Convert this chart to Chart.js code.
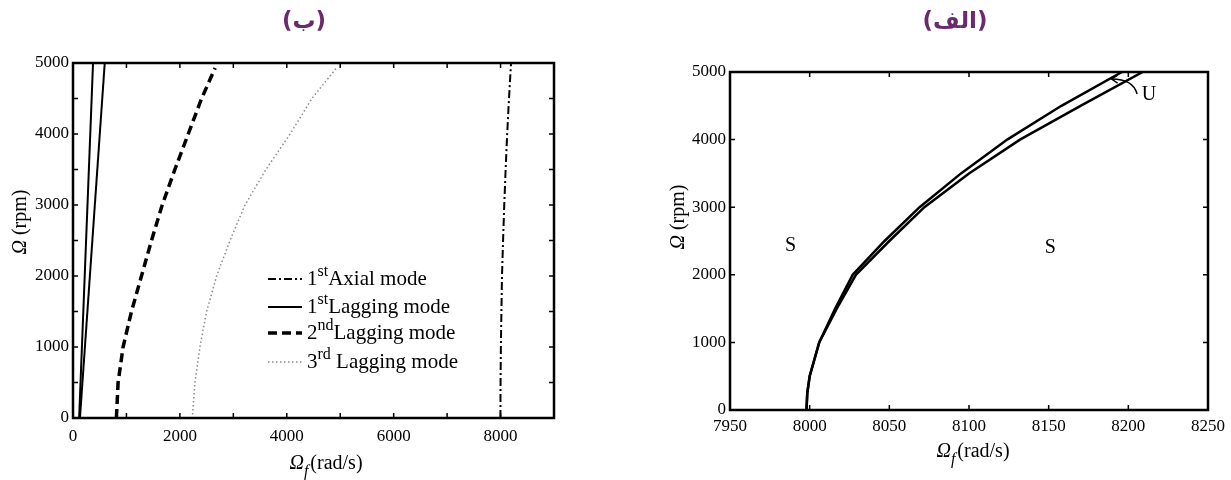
<!DOCTYPE html>
<html>
<head>
<meta charset="utf-8">
<script src="https://cdn.jsdelivr.net/npm/chart.js@4.4.0/dist/chart.umd.min.js"></script>
<style>
  html, body { margin: 0; padding: 0; background: #fff; }
  #wrap { position: relative; width: 1231px; height: 480px; }
  .panel { position: absolute; top: 0; height: 480px; }
</style>
</head>
<body>
<div id="wrap">
  <div class="panel" style="left:0;width:615px"><canvas id="chartB"></canvas></div>
  <div class="panel" style="left:615px;width:616px"><canvas id="chartA"></canvas></div>
</div>
<script>
// ---------------- DATA ----------------
// spin speed Omega (rpm)
const rpmSteps = [0, 250, 500, 1000, 1500, 2000, 2500, 3000, 3500, 4000, 4500, 5000];
// stability boundary curves (rad/s), panel (الف); first one is also the 1st axial mode in (ب)
const boundUpperX = [7998, 7998.5, 8000, 8006, 8016, 8027, 8047, 8069, 8095, 8124, 8158, 8196];
const boundLowerX = [7998, 7998.5, 8000, 8006, 8017, 8029, 8050, 8072, 8100, 8132, 8170, 8209];

// 1st lagging mode: two nearly straight lines
const lag1Rpm = [0, 5000];
const lag1aX = [115, 375];
const lag1bX = [130, 594];

// 2nd lagging mode
const lag2Rpm = [0, 500, 1000, 1500, 2000, 2500, 3000, 3500, 4000, 4500, 4930];
const lag2X = [812, 844, 937, 1094, 1281, 1469, 1669, 1906, 2156, 2406, 2660];

// 3rd lagging mode
const lag3Rpm = [50, 500, 1000, 1500, 2000, 2500, 3000, 3500, 4000, 4500, 4940];
const lag3X = [2237, 2281, 2375, 2500, 2687, 2937, 3219, 3610, 4062, 4470, 4940];

// legend text (number, superscript, rest)
const legendNums = ["1", "1", "2", "3"];
const legendSups = ["st", "st", "nd", "rd"];
const legendTexts = ["Axial mode", "Lagging mode", "Lagging mode", " Lagging mode"];

// region labels in panel (الف)
const regionLabels = ["S", "S", "U"];
const regionX = [7988, 8151, 8213];
const regionY = [2430, 2400, 4660];

const SERIF = '"Liberation Serif", "Times New Roman", serif';
const TITLE_COLOR = "#6b2a6e";

function pts(xs, ys) {
  return xs.map((x, i) => ({ x: x, y: ys[i] }));
}

// ---------------- HELPERS ----------------
function drawOmegaLabel(ctx, cx, baseY, withF, rest) {
  ctx.save();
  ctx.fillStyle = "#000";
  ctx.textBaseline = "alphabetic";
  ctx.textAlign = "left";
  const omFont = "italic 20px " + SERIF;
  const fFont = "italic 16px " + SERIF;
  const restFont = "20px " + SERIF;
  ctx.font = omFont; const wOm = ctx.measureText("Ω").width;
  ctx.font = fFont; const wF = withF ? ctx.measureText("f").width + 2 : 0;
  ctx.font = restFont; const wR = ctx.measureText(rest).width;
  let x = cx - (wOm + wF + wR) / 2;
  ctx.font = omFont; ctx.fillText("Ω", x, baseY); x += wOm;
  if (withF) { ctx.font = fFont; ctx.fillText("f", x, baseY + 7); x += wF; }
  ctx.font = restFont; ctx.fillText(rest, x, baseY);
  ctx.restore();
}

function drawYLabel(ctx, cx, cy) {
  ctx.save();
  ctx.translate(cx, cy);
  ctx.rotate(-Math.PI / 2);
  drawOmegaLabel(ctx, 0, 7, false, " (rpm)");
  ctx.restore();
}

function drawTitle(ctx, x, y, text) {
  ctx.save();
  ctx.font = 'bold 23px "DejaVu Sans", sans-serif';
  ctx.fillStyle = TITLE_COLOR;
  ctx.textAlign = "center";
  ctx.textBaseline = "middle";
  ctx.fillText(text, x, y);
  ctx.restore();
}

// inward ticks on all four sides + box
const framePlugin = {
  id: "frame",
  afterDatasetsDraw(chart) {
    const ctx = chart.ctx, a = chart.chartArea;
    const xs = chart.scales.x, ys = chart.scales.y;
    ctx.save();
    ctx.strokeStyle = "#000";
    ctx.lineWidth = 1.5;
    ctx.beginPath();
    xs.ticks.forEach(t => {
      const px = xs.getPixelForValue(t.value);
      ctx.moveTo(px, a.bottom); ctx.lineTo(px, a.bottom - 5);
      ctx.moveTo(px, a.top); ctx.lineTo(px, a.top + 5);
    });
    ys.ticks.forEach(t => {
      const py = ys.getPixelForValue(t.value);
      ctx.moveTo(a.left, py); ctx.lineTo(a.left + 5, py);
      ctx.moveTo(a.right, py); ctx.lineTo(a.right - 5, py);
    });
    ctx.stroke();
    ctx.lineWidth = 2.5;
    ctx.strokeRect(a.left, a.top, a.width, a.height);
    ctx.restore();
  }
};

function baseScales(xMin, xMax, xStep, xLabelEvery, yStep, yLabelEvery, yWidth, xHeight, fontSize, xPad) {
  return {
    x: {
      type: "linear", min: xMin, max: xMax,
      grid: { display: false, drawTicks: false, tickLength: 0 }, border: { display: false },
      afterFit(s) { s.height = xHeight; },
      ticks: {
        stepSize: xStep, autoSkip: false, maxRotation: 0, padding: xPad,
        color: "#000", font: { family: SERIF, size: fontSize },
        callback: v => (Math.round(v - xMin) % xLabelEvery === 0 ? String(v) : "")
      }
    },
    y: {
      type: "linear", min: 0, max: 5000,
      grid: { display: false, drawTicks: false, tickLength: 0 }, border: { display: false },
      afterFit(s) { s.width = yWidth; },
      ticks: {
        stepSize: yStep, autoSkip: false, padding: 4,
        color: "#000", font: { family: SERIF, size: fontSize },
        callback: v => (v % yLabelEvery === 0 ? String(v) : "")
      }
    }
  };
}

// ---------------- PANEL (ب) ----------------
const legendPlugin = {
  id: "modesLegend",
  afterDraw(chart) {
    const ctx = chart.ctx;
    drawTitle(ctx, 304, 22, "(ب)");
    drawYLabel(ctx, 19, 222);
    drawOmegaLabel(ctx, 326, 469, true, "(rad/s)");

    // legend, styled from the datasets
    const legendSets = [0, 1, 3, 4];
    const rowY = [279, 307, 333, 362];
    ctx.save();
    legendSets.forEach((di, i) => {
      const ds = chart.data.datasets[di];
      ctx.beginPath();
      ctx.strokeStyle = ds.borderColor;
      ctx.lineWidth = ds.borderWidth;
      ctx.setLineDash(ds.borderDash || []);
      ctx.moveTo(268, rowY[i]);
      ctx.lineTo(302, rowY[i]);
      ctx.stroke();
      ctx.setLineDash([]);
      ctx.fillStyle = "#000";
      ctx.textBaseline = "alphabetic";
      ctx.textAlign = "left";
      let x = 307;
      const base = rowY[i] + 6;
      ctx.font = "21px " + SERIF;
      ctx.fillText(legendNums[i], x, base);
      x += ctx.measureText(legendNums[i]).width;
      ctx.font = "16px " + SERIF;
      ctx.fillText(legendSups[i], x, base - 9);
      x += ctx.measureText(legendSups[i]).width;
      ctx.font = "21px " + SERIF;
      ctx.fillText(legendTexts[i], x, base);
    });
    ctx.restore();
  }
};

new Chart(document.getElementById("chartB").getContext("2d"), {
  type: "scatter",
  data: {
    datasets: [
      { label: "1st Axial mode", data: pts(boundUpperX, rpmSteps), showLine: true, pointRadius: 0,
        borderColor: "#000", borderWidth: 2, borderDash: [8, 3, 2, 3] },
      { label: "1st Lagging mode", data: pts(lag1aX, lag1Rpm), showLine: true, pointRadius: 0,
        borderColor: "#000", borderWidth: 2 },
      { label: "1st Lagging mode b", data: pts(lag1bX, lag1Rpm), showLine: true, pointRadius: 0,
        borderColor: "#000", borderWidth: 2 },
      { label: "2nd Lagging mode", data: pts(lag2X, lag2Rpm), showLine: true, pointRadius: 0,
        borderColor: "#000", borderWidth: 3.5, borderDash: [9, 5] },
      { label: "3rd Lagging mode", data: pts(lag3X, lag3Rpm), showLine: true, pointRadius: 0,
        borderColor: "#8a8a8a", borderWidth: 1.5, borderDash: [1.5, 2.5] }
    ]
  },
  options: {
    responsive: true, maintainAspectRatio: false, animation: false,
    layout: { padding: { left: 0, top: 63, right: 61, bottom: 0 } },
    plugins: { legend: { display: false }, tooltip: { enabled: false }, title: { display: false } },
    scales: baseScales(0, 9000, 1000, 2000, 500, 1000, 73, 62, 17, 8)
  },
  plugins: [framePlugin, legendPlugin]
});

// ---------------- PANEL (الف) ----------------
const regionPlugin = {
  id: "regions",
  afterDraw(chart) {
    const ctx = chart.ctx;
    const xs = chart.scales.x, ys = chart.scales.y;
    drawTitle(ctx, 340, 22, "(الف)");
    drawYLabel(ctx, 62, 217);
    drawOmegaLabel(ctx, 358, 457, true, "(rad/s)");

    ctx.save();
    ctx.fillStyle = "#000";
    ctx.font = "20px " + SERIF;
    ctx.textAlign = "center";
    ctx.textBaseline = "middle";
    regionLabels.forEach((t, i) => {
      ctx.fillText(t, xs.getPixelForValue(regionX[i]), ys.getPixelForValue(regionY[i]));
    });
    // curved arrow from U to the boundary
    const sx = xs.getPixelForValue(8205.5), sy = ys.getPixelForValue(4674);
    const cxp = xs.getPixelForValue(8203), cyp = ys.getPixelForValue(4896);
    const ex = xs.getPixelForValue(8189.5), ey = ys.getPixelForValue(4896);
    ctx.strokeStyle = "#000";
    ctx.lineWidth = 1.5;
    ctx.beginPath();
    ctx.moveTo(sx, sy);
    ctx.quadraticCurveTo(cxp, cyp, ex, ey);
    ctx.stroke();
    ctx.beginPath();
    ctx.moveTo(ex + 6, ey - 4);
    ctx.lineTo(ex, ey);
    ctx.lineTo(ex + 6, ey + 4);
    ctx.stroke();
    ctx.restore();
  }
};

new Chart(document.getElementById("chartA").getContext("2d"), {
  type: "scatter",
  data: {
    datasets: [
      { label: "boundary 1", data: pts(boundUpperX, rpmSteps), showLine: true, pointRadius: 0,
        borderColor: "#000", borderWidth: 2.5 },
      { label: "boundary 2", data: pts(boundLowerX, rpmSteps), showLine: true, pointRadius: 0,
        borderColor: "#000", borderWidth: 2.5 }
    ]
  },
  options: {
    responsive: true, maintainAspectRatio: false, animation: false,
    layout: { padding: { left: 0, top: 72, right: 23, bottom: 0 } },
    plugins: { legend: { display: false }, tooltip: { enabled: false }, title: { display: false } },
    scales: baseScales(7950, 8250, 50, 50, 1000, 1000, 115, 70, 17, 6)
  },
  plugins: [framePlugin, regionPlugin]
});
</script>
</body>
</html>
